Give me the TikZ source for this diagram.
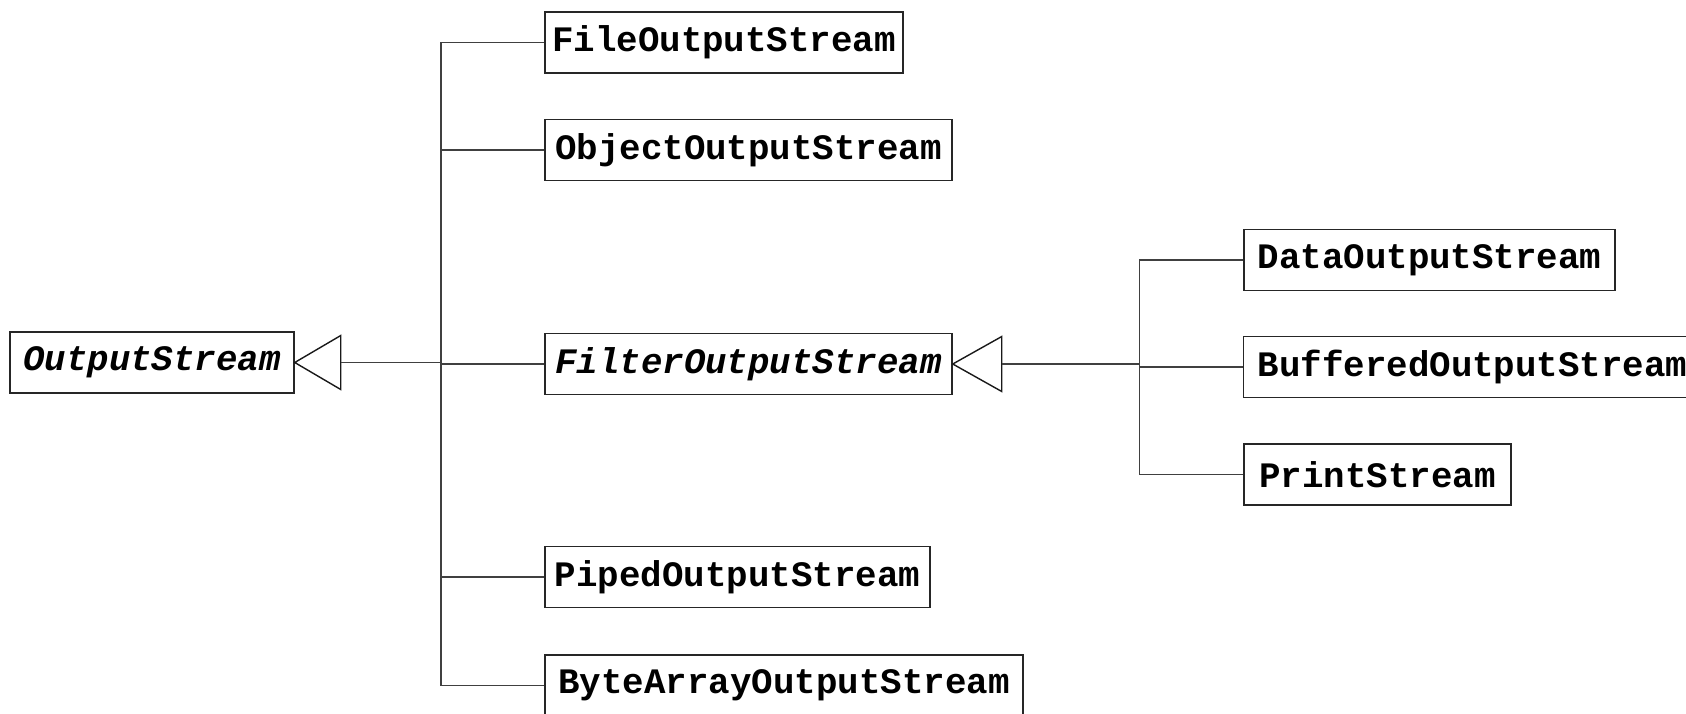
\documentclass[tikz,border=0pt]{standalone}
\usepackage{fontspec}
\setmonofont{Liberation Mono}
\usetikzlibrary{calc}
\begin{document}
\begin{tikzpicture}[x=0.5pt, y=-0.5pt,
  cls/.style={draw=black!85, line width=0.75pt, fill=white, inner sep=0pt,
    minimum height=30.5pt, font=\fontsize{17.9pt}{20pt}\selectfont\ttfamily\bfseries},
  abs/.style={cls, font=\fontsize{17.9pt}{20pt}\selectfont\ttfamily\bfseries\itshape},
  conn/.style={draw=black!75, line width=0.7pt},
  gen/.style={draw=black!90, line width=0.7pt, fill=white}]
\useasboundingbox (0,0) rectangle (1686,713);
\clip (0,0) rectangle (1686,713);

% classes
\node[abs, minimum width=142pt] (out) at (152,362.5) {OutputStream};
\node[cls, minimum width=179pt] (file) at (724,42.5) {FileOutputStream};
\node[cls, minimum width=203.5pt] (obj) at (748.5,150) {ObjectOutputStream};
\node[abs, minimum width=203.5pt] (filt) at (748.5,364) {FilterOutputStream};
\node[cls, minimum width=192.5pt] (pipe) at (737.5,577) {PipedOutputStream};
\node[cls, minimum width=239pt] (byte) at (784,685.5) {ByteArrayOutputStream};
\node[cls, minimum width=185.5pt] (data) at (1429.5,260) {DataOutputStream};
\node[cls, minimum width=229pt] (buf) at (1472.5,367) {BufferedOutputStream};
\node[cls, minimum width=133.5pt] (print) at (1377.5,474.5) {PrintStream};

% trunks
\coordinate (trunkA) at (441,0);
\coordinate (trunkB) at (1139.5,0);

% generalization arrow of OutputStream
\coordinate (outTri) at ($(out.east)+(46,0)$);
\draw[gen] (out.east) -- ($(outTri)+(0,-27)$) -- ($(outTri)+(0,27)$) -- cycle;
\draw[conn] (outTri) -- (outTri -| trunkA);
\draw[conn] (file.west) -- (file.west -| trunkA) -- (byte.west -| trunkA) -- (byte.west);
\draw[conn] (obj.west) -- (obj.west -| trunkA);
\draw[conn] (filt.west) -- (filt.west -| trunkA);
\draw[conn] (pipe.west) -- (pipe.west -| trunkA);

% generalization arrow of FilterOutputStream
\coordinate (filtTri) at ($(filt.east)+(49,0)$);
\draw[gen] (filt.east) -- ($(filtTri)+(0,-27.5)$) -- ($(filtTri)+(0,27.5)$) -- cycle;
\draw[conn] (filtTri) -- (filtTri -| trunkB);
\draw[conn] (data.west) -- (data.west -| trunkB) -- (print.west -| trunkB) -- (print.west);
\draw[conn] (buf.west) -- (buf.west -| trunkB);
\end{tikzpicture}
\end{document}
